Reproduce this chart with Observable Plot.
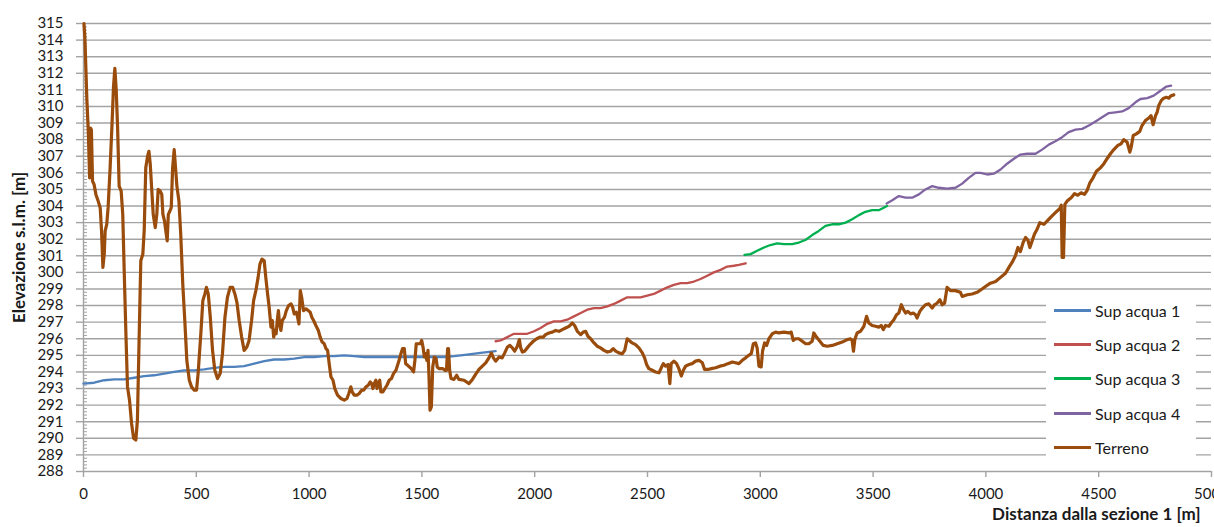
<!DOCTYPE html>
<html>
<head>
<meta charset="utf-8">
<script src="https://cdn.jsdelivr.net/npm/d3@7"></script>
<script src="https://cdn.jsdelivr.net/npm/@observablehq/plot@0.6"></script>
<style>
  html, body { margin: 0; padding: 0; background: #fff; overflow: hidden; }
  #wrap { position: relative; width: 1214px; height: 527px; font-family: Lato, "Open Sans", sans-serif; }
  #legend { position: absolute; left: 1046px; top: 293px; width: 150px; height: 172px; background: #fff; }
  .item { display: flex; align-items: center; height: 34.3px; font-size: 16px; color: #1a1a1a; }
  .swatch { width: 37px; height: 3px; margin-left: 8px; margin-right: 4px; }
</style>
</head>
<body>
<div id="wrap"></div>
<script>
// Longitudinal profile: distance from section 1 [m] vs elevation a.s.l. [m]
const seriesNames = ["Sup acqua 1", "Sup acqua 2", "Sup acqua 3", "Sup acqua 4", "Terreno"];
const seriesColors = ["#4f81bd", "#c0504d", "#00b050", "#8064a2", "#9a4c0c"];

const xTicks = [0, 500, 1000, 1500, 2000, 2500, 3000, 3500, 4000, 4500, 5000];
const yTicks = d3.range(288, 316);
const yMinorTicks = d3.range(288, 315, 0.2).filter(v => Math.abs(v - Math.round(v)) > 1e-6);

// Water surface, reach 1
const acqua1 = [
  [0,293.3],[47,293.35],[92,293.5],[136,293.55],[180,293.55],[225,293.65],[269,293.75],
  [313,293.8],[358,293.9],[402,294.0],[446,294.1],[491,294.1],[535,294.15],[579,294.25],
  [624,294.3],[668,294.3],[712,294.35],[757,294.5],[801,294.65],[845,294.75],[890,294.75],
  [934,294.8],[978,294.9],[1023,294.9],[1067,294.95],[1111,294.95],[1156,295.0],[1200,294.95],
  [1244,294.9],[1289,294.9],[1333,294.9],[1377,294.9],[1422,294.9],[1466,294.9],[1510,294.9],
  [1555,294.9],[1599,294.9],[1643,294.95],[1700,295.05],[1760,295.15],[1827,295.25]
];

// Water surface, reach 2
const acqua2 = [
  [1827,295.85],[1849,295.9],[1879,296.1],[1908,296.3],[1938,296.3],[1967,296.3],[1997,296.45],
  [2026,296.65],[2056,296.9],[2085,297.05],[2115,297.05],[2144,297.15],[2174,297.35],[2204,297.55],
  [2233,297.75],[2263,297.85],[2292,297.85],[2322,297.95],[2351,298.1],[2381,298.3],[2410,298.5],
  [2440,298.5],[2469,298.5],[2499,298.6],[2528,298.7],[2558,298.9],[2588,299.1],[2617,299.25],
  [2647,299.35],[2676,299.35],[2706,299.45],[2735,299.6],[2765,299.8],[2794,300.0],[2824,300.15],
  [2853,300.35],[2883,300.4],[2905,300.45],[2935,300.55]
];

// Water surface, reach 3
const acqua3 = [
  [2930,301.05],[2957,301.1],[2986,301.3],[3016,301.5],[3045,301.65],[3075,301.75],[3104,301.7],
  [3141,301.7],[3171,301.8],[3200,301.95],[3230,302.25],[3259,302.5],[3289,302.8],[3318,302.9],
  [3348,302.9],[3378,303.0],[3407,303.2],[3437,303.45],[3466,303.65],[3496,303.75],[3525,303.75],
  [3547,303.9],[3562,304.0]
];

// Water surface, reach 4
const acqua4 = [
  [3560,304.15],[3585,304.35],[3614,304.6],[3644,304.5],[3673,304.5],[3703,304.7],[3732,305.0],
  [3762,305.2],[3791,305.1],[3828,305.05],[3865,305.1],[3895,305.35],[3924,305.7],[3954,306.0],
  [3976,306.0],[4006,305.9],[4035,305.95],[4065,306.2],[4094,306.55],[4124,306.85],[4153,307.1],
  [4183,307.15],[4220,307.15],[4249,307.4],[4279,307.7],[4308,307.9],[4338,308.15],[4367,308.45],
  [4397,308.6],[4427,308.65],[4456,308.85],[4486,309.1],[4515,309.35],[4545,309.6],[4574,309.65],
  [4604,309.7],[4633,309.9],[4663,310.25],[4685,310.45],[4715,310.5],[4744,310.65],[4774,310.95],
  [4800,311.2],[4821,311.25]
];

// Ground profile (thalweg)
const terreno = [
  [2,315],[6,314.2],[15,310.4],[21,308.6],[27,305.7],[31,308.7],[35,308.6],[40,305.5],[47,305.3],
  [55,304.7],[65,304.3],[74,303.9],[80,302.5],[86,300.3],[92,301.1],[96,302.5],[103,302.9],
  [109,303.9],[118,306.3],[126,308.8],[133,311.2],[139,312.3],[145,311.0],[151,308.8],[158,305.2],
  [167,304.9],[174,303.5],[180,300.3],[188,296.3],[195,293.1],[204,292.3],[213,290.9],[222,290.0],
  [232,289.9],[239,291.1],[247,296.3],[254,300.7],[263,301.1],[269,302.5],[276,306.3],[284,307.0],
  [290,307.3],[296,306.5],[302,305.1],[309,303.5],[318,302.7],[325,303.5],[331,305.0],[340,304.9],
  [347,304.7],[352,303.5],[359,303.1],[367,302.3],[371,301.9],[376,303.5],[383,303.7],[389,303.9],
  [395,306.3],[402,307.4],[408,306.3],[414,305.2],[423,304.3],[431,302.3],[440,299.3],[449,297.1],
  [458,294.7],[469,293.5],[479,293.1],[491,292.9],[501,292.9],[508,293.9],[520,296.3],[529,298.3],
  [538,298.7],[545,299.1],[553,298.7],[562,297.3],[572,295.3],[582,294.1],[594,293.6],[606,293.9],
  [616,295.1],[627,297.3],[638,298.5],[650,299.1],[661,299.1],[671,298.7],[680,298.2],[690,297.1],
  [701,296.1],[712,295.3],[724,295.5],[734,295.9],[745,297.1],[754,298.3],[764,298.9],[774,299.7],
  [782,300.5],[791,300.8],[801,300.7],[808,299.7],[816,298.7],[823,297.9],[831,296.7],[837,297.1],
  [843,296.1],[849,296.5],[854,296.3],[859,297.1],[864,297.7],[869,296.9],[875,296.5],[881,297.1],
  [891,297.3],[899,297.7],[909,298.0],[920,298.1],[927,297.9],[934,297.5],[943,297.6],[949,297.3],
  [955,296.9],[961,298.9],[967,298.5],[975,297.7],[986,297.8],[996,297.7],[1005,297.6],[1012,297.3],
  [1020,297.1],[1030,296.8],[1041,296.5],[1049,296.1],[1058,295.8],[1067,295.7],[1075,295.4],
  [1082,295.3],[1089,294.5],[1097,293.7],[1106,293.5],[1114,293.0],[1126,292.6],[1141,292.4],
  [1156,292.3],[1168,292.4],[1176,292.7],[1185,293.1],[1191,292.8],[1200,292.6],[1212,292.6],
  [1222,292.7],[1233,292.9],[1242,292.9],[1252,293.1],[1262,293.2],[1271,293.4],[1277,293.3],
  [1283,293.0],[1289,293.3],[1296,293.5],[1301,293.0],[1307,293.3],[1313,293.5],[1318,292.8],
  [1327,292.8],[1336,293.0],[1345,293.2],[1355,293.5],[1365,293.6],[1374,293.9],[1385,294.1],
  [1392,294.4],[1399,294.7],[1407,295.1],[1414,295.4],[1422,295.4],[1428,294.5],[1437,294.4],
  [1445,294.3],[1453,294.2],[1463,294.0],[1469,294.7],[1475,295.7],[1484,295.7],[1493,295.7],
  [1499,295.9],[1505,295.5],[1511,294.9],[1516,295.1],[1522,294.7],[1527,295.3],[1531,293.9],
  [1536,291.7],[1542,291.9],[1548,294.3],[1555,294.9],[1563,294.8],[1568,294.3],[1576,294.2],
  [1584,294.2],[1593,294.2],[1602,294.1],[1609,294.1],[1614,295.4],[1618,295.4],[1623,294.1],
  [1629,293.6],[1642,293.55],[1654,293.8],[1664,293.55],[1687,293.5],[1709,293.3],[1724,293.55],
  [1738,293.85],[1753,294.15],[1768,294.35],[1783,294.55],[1797,294.85],[1808,295.15],[1817,294.85],
  [1827,294.65],[1842,294.9],[1856,294.85],[1867,295.15],[1879,295.5],[1890,295.6],[1901,295.45],
  [1911,295.25],[1923,295.55],[1932,295.95],[1938,295.45],[1945,295.2],[1955,295.25],[1967,295.45],
  [1979,295.65],[1994,295.85],[2009,296.0],[2023,296.1],[2038,296.1],[2048,296.25],[2063,296.35],
  [2078,296.4],[2093,296.5],[2108,296.45],[2122,296.55],[2137,296.65],[2152,296.75],[2167,296.95],
  [2177,296.8],[2189,296.45],[2204,296.25],[2215,296.4],[2226,296.45],[2236,296.15],[2248,296.0],
  [2263,295.75],[2277,295.55],[2292,295.45],[2307,295.3],[2322,295.2],[2336,295.25],[2348,295.4],
  [2359,295.25],[2373,295.15],[2388,295.1],[2399,295.3],[2410,296.0],[2419,295.9],[2432,295.75],
  [2447,295.65],[2462,295.45],[2477,295.15],[2487,294.85],[2496,294.45],[2506,294.2],[2521,294.1],
  [2536,294.0],[2551,293.95],[2561,294.25],[2570,294.5],[2580,294.35],[2591,294.45],[2599,293.3],
  [2605,294.5],[2617,294.65],[2629,294.5],[2639,294.2],[2650,293.75],[2659,294.1],[2669,294.35],
  [2684,294.45],[2698,294.5],[2713,294.65],[2728,294.7],[2743,294.55],[2753,294.15],[2768,294.15],
  [2783,294.2],[2802,294.25],[2821,294.35],[2839,294.4],[2856,294.5],[2876,294.6],[2890,294.55],
  [2905,294.5],[2920,294.7],[2935,294.85],[2949,295.0],[2960,295.1],[2969,295.7],[2979,295.75],
  [2986,295.45],[2994,294.35],[3004,294.3],[3010,295.25],[3019,295.75],[3028,295.6],[3038,296.0],
  [3053,296.3],[3068,296.4],[3082,296.35],[3105,296.4],[3127,296.35],[3137,296.4],[3146,295.9],
  [3156,296.0],[3171,296.0],[3186,295.85],[3201,295.7],[3215,295.7],[3230,295.85],[3237,296.35],
  [3249,296.1],[3264,295.85],[3279,295.6],[3297,295.55],[3319,295.6],[3341,295.7],[3363,295.8],
  [3385,295.95],[3400,296.0],[3407,295.9],[3413,295.25],[3419,295.95],[3429,296.35],[3444,296.45],
  [3459,296.75],[3471,297.35],[3481,296.95],[3496,296.8],[3511,296.75],[3525,296.7],[3536,296.8],
  [3545,296.55],[3555,296.8],[3570,296.75],[3580,296.95],[3592,297.15],[3604,297.45],[3614,297.55],
  [3625,298.05],[3633,297.8],[3644,297.55],[3654,297.65],[3666,297.5],[3678,297.55],[3688,297.45],
  [3695,297.25],[3707,297.65],[3718,297.85],[3732,298.05],[3747,298.1],[3762,297.85],[3772,298.05],
  [3784,298.15],[3796,298.35],[3806,298.05],[3817,298.15],[3828,299.1],[3843,298.9],[3865,298.9],
  [3887,298.8],[3895,298.55],[3917,298.65],[3939,298.7],[3961,298.8],[3983,299.0],[3998,299.15],
  [4020,299.35],[4043,299.45],[4065,299.7],[4087,299.95],[4102,300.3],[4116,300.6],[4131,301.0],
  [4142,301.5],[4153,301.25],[4165,301.8],[4176,302.1],[4186,301.95],[4195,301.5],[4205,301.9],
  [4215,302.3],[4227,302.6],[4239,303.0],[4257,302.9],[4272,303.1],[4289,303.35],[4308,303.6],
  [4328,303.85],[4334,304.05],[4338,300.9],[4344,300.9],[4350,304.1],[4360,304.3],[4378,304.5],
  [4393,304.75],[4407,304.65],[4422,304.8],[4437,304.7],[4449,304.95],[4461,305.4],[4475,305.7],
  [4490,306.1],[4508,306.3],[4523,306.55],[4537,306.85],[4552,307.15],[4567,307.4],[4585,307.65],
  [4599,307.75],[4611,308.0],[4626,307.85],[4638,307.25],[4644,307.55],[4653,308.25],[4667,308.35],
  [4682,308.5],[4692,308.85],[4707,309.15],[4722,309.3],[4732,309.45],[4741,308.9],[4752,309.45],
  [4759,309.65],[4766,310.05],[4777,310.35],[4788,310.5],[4800,310.55],[4811,310.5],[4821,310.65],
  [4833,310.7]
];

const series = [acqua1, acqua2, acqua3, acqua4, terreno];
const gridColor = "#a3a3a3";
const textColor = "#1a1a1a";

const chart = Plot.plot({
  width: 1214,
  height: 527,
  marginTop: 23,
  marginBottom: 56,
  marginLeft: 83,
  marginRight: 3,
  style: { fontFamily: "Lato, 'Open Sans', sans-serif", fontSize: "15px", background: "#fff", overflow: "visible" },
  x: { domain: [0, 5000] },
  y: { domain: [288, 315] },
  marks: [
    Plot.gridY(yTicks, { stroke: gridColor, strokeOpacity: 1, strokeWidth: 1.4 }),
    Plot.ruleX([0], { stroke: gridColor, strokeWidth: 1.4 }),
    Plot.axisY(yMinorTicks, { tickSize: -4, tickFormat: () => "", stroke: gridColor, strokeWidth: 1, label: null }),
    Plot.axisY(yTicks, { tickSize: 7, tickPadding: 13, stroke: gridColor, strokeWidth: 1.4, fill: textColor, fontSize: 15, label: null }),
    Plot.axisX(xTicks, { tickSize: 6, tickPadding: 11, stroke: gridColor, strokeWidth: 1.4, fill: textColor, fontSize: 15, tickFormat: d3.format("d"), label: null }),
    ...series.map((s, i) => Plot.line(s, {
      x: d => d[0],
      y: d => d[1],
      stroke: seriesColors[i],
      strokeWidth: i === 4 ? 3.2 : 2.3,
      strokeLinejoin: "round",
      strokeLinecap: "round"
    })),
    Plot.text(["Elevazione s.l.m. [m]"], {
      frameAnchor: "left", dx: -64, rotate: -90, textAnchor: "middle",
      fontWeight: "bold", fontSize: 17, fill: textColor
    }),
    Plot.text(["Distanza dalla sezione 1 [m]"], {
      frameAnchor: "bottom-right", dx: -11, dy: 48, textAnchor: "end",
      fontWeight: "bold", fontSize: 17, fill: textColor
    })
  ]
});

const wrap = document.getElementById("wrap");
wrap.appendChild(chart);

// Legend box drawn over the plot area
const legend = document.createElement("div");
legend.id = "legend";
seriesNames.forEach((name, i) => {
  const row = document.createElement("div");
  row.className = "item";
  const sw = document.createElement("span");
  sw.className = "swatch";
  sw.style.background = seriesColors[i];
  const label = document.createElement("span");
  label.textContent = name;
  row.appendChild(sw);
  row.appendChild(label);
  legend.appendChild(row);
});
wrap.appendChild(legend);
</script>
</body>
</html>
